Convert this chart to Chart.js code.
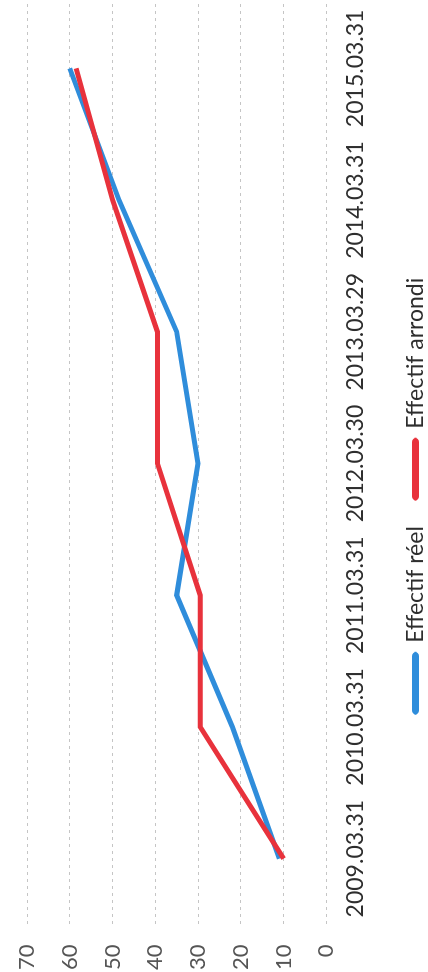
<!DOCTYPE html>
<html>
<head>
<meta charset="utf-8">
<script src="https://cdn.jsdelivr.net/npm/chart.js@4"></script>
<style>
  html, body { margin: 0; padding: 0; background: #fff; overflow: hidden; }
  body { width: 428px; height: 972px; position: relative; }
  /* the reference is the chart turned a quarter turn to the left */
  #wrap {
    position: absolute; left: 0; top: 0;
    width: 972px; height: 428px;
    transform-origin: 0 0;
    transform: translate(0, 972px) rotate(-90deg);
  }
</style>
</head>
<body>
<div id="wrap"><canvas id="effectifChart"></canvas></div>
<script>
const dates = ["2009.03.31", "2010.03.31", "2011.03.31", "2012.03.30", "2013.03.29", "2014.03.31", "2015.03.31"];
const effectifReel = [11, 22, 35, 30, 35, 48.5, 60];
const effectifArrondi = [10, 29.5, 29.5, 39.5, 39.5, 50, 58.5];
const valueTicks = [0, 10, 20, 30, 40, 50, 60, 70];

const textColor = '#2e2e2e';
const gridColor = 'rgba(150,150,150,0.55)';

let ctx = document.getElementById('effectifChart').getContext('2d');

let data = {
  labels: dates,
  datasets: [
    {
      label: 'Effectif réel',
      data: effectifReel,
      borderColor: '#2f8ddb',
      backgroundColor: '#2f8ddb',
      borderWidth: 5,
      pointRadius: 0,
      tension: 0,
      order: 1
    },
    {
      label: 'Effectif arrondi',
      data: effectifArrondi,
      borderColor: '#e8323c',
      backgroundColor: '#e8323c',
      borderWidth: 5,
      pointRadius: 0,
      tension: 0,
      order: 0 // drawn over the blue line
    }
  ]
};

let effectifChart = new Chart(ctx, {
  type: 'line',
  data: data,
  options: {
    responsive: true,
    maintainAspectRatio: false,
    animation: false,
    events: [],
    layout: {
      padding: { top: 27, left: -18, right: 0, bottom: -9 }
    },
    scales: {
      x: {
        offset: true,
        grid: { display: false },
        border: { display: false },
        ticks: {
          color: textColor,
          font: { family: 'Lato', size: 23 },
          padding: 7,
          maxRotation: 0,
          autoSkip: false
        }
      },
      y: {
        min: valueTicks[0],
        max: valueTicks[valueTicks.length - 1],
        afterBuildTicks: (axis) => { axis.ticks = valueTicks.map(v => ({ value: v })); },
        afterFit: (axis) => { axis.paddingTop = 0; },
        grid: {
          color: gridColor,
          lineWidth: 1,
          drawTicks: false
        },
        border: { display: false, dash: [3, 4] },
        ticks: {
          color: '#555555',
          font: { family: 'Lato', size: 22 },
          padding: 20
        }
      }
    },
    plugins: {
      legend: {
        position: 'bottom',
        labels: {
          color: textColor,
          font: { family: 'Lato', size: 23 },
          boxWidth: 58,
          boxHeight: 2,
          useBorderRadius: true,
          borderRadius: 2,
          padding: 28,
          sort: (a, b) => a.datasetIndex - b.datasetIndex
        }
      },
      tooltip: { enabled: false }
    }
  }
});
</script>
</body>
</html>
